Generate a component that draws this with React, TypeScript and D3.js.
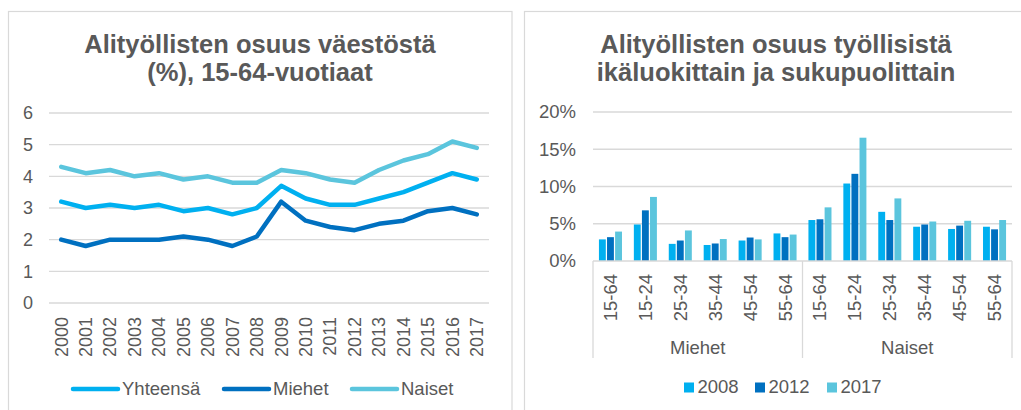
import React from "react";
import * as d3 from "d3";

const years = ["2000","2001","2002","2003","2004","2005","2006","2007","2008","2009","2010","2011","2012","2013","2014","2015","2016","2017"];
const yhteensa = [3.2,3.0,3.1,3.0,3.1,2.9,3.0,2.8,3.0,3.7,3.3,3.1,3.1,3.3,3.5,3.8,4.1,3.9];
const miehet = [2.0,1.8,2.0,2.0,2.0,2.1,2.0,1.8,2.1,3.2,2.6,2.4,2.3,2.5,2.6,2.9,3.0,2.8];
const naiset = [4.3,4.1,4.2,4.0,4.1,3.9,4.0,3.8,3.8,4.2,4.1,3.9,3.8,4.2,4.5,4.7,5.1,4.9];
const leftTicks = [0,1,2,3,4,5,6];

const ageGroups = ["15-64","15-24","25-34","35-44","45-54","55-64"];
const genders = ["Miehet","Naiset"];
const barYears = ["2008","2012","2017"];
const v2008 = [2.9,4.9,2.3,2.15,2.75,3.7, 5.5,10.4,6.6,4.6,4.3,4.6];
const v2012 = [3.2,6.8,2.75,2.35,3.15,3.2, 5.6,11.7,5.5,4.9,4.75,4.25];
const v2017 = [3.95,8.6,4.1,2.95,2.9,3.55, 7.2,16.55,8.4,5.3,5.4,5.5];
const rightTicks = [0,5,10,15,20];

const FONT = "'Liberation Sans', Arial, Helvetica, sans-serif";
const TXT = "#595959";
const GRID = "#D9D9D9";
const C1 = "#00B0F0";
const C2 = "#0070C0";
const C3 = "#5BC5DD";

export default function App() {
  // Left chart
  const lx = d3.scaleBand<string>().domain(years).range([49, 489]);
  const ly = d3.scaleLinear().domain([0, 6]).range([303, 113]);
  const line = d3.line<number>()
    .x((_, i) => (lx(years[i]) as number) + lx.bandwidth() / 2)
    .y((d) => ly(d));
  const series = [
    { name: "Naiset", data: naiset, color: C3 },
    { name: "Yhteensä", data: yhteensa, color: C1 },
    { name: "Miehet", data: miehet, color: C2 },
  ];
  const leftLegend = [
    { name: "Yhteensä", color: C1, x: 73 },
    { name: "Miehet", color: C2, x: 224 },
    { name: "Naiset", color: C3, x: 352 },
  ];

  // Right chart
  const cats = genders.flatMap((g) => ageGroups.map((a) => g + "|" + a));
  const rx = d3.scaleBand<string>().domain(cats).range([593, 1012]).paddingInner(0.34).paddingOuter(0.17);
  const rxStep = d3.scaleBand<string>().domain(cats).range([593, 1012]);
  const rInner = d3.scaleBand<string>().domain(barYears).range([0, rx.bandwidth()]).paddingInner(0.15);
  const ry = d3.scaleLinear().domain([0, 20]).range([261, 112]);
  const barSeries = [
    { year: "2008", data: v2008, color: C1 },
    { year: "2012", data: v2012, color: C2 },
    { year: "2017", data: v2017, color: C3 },
  ];
  const rightLegend = [
    { name: "2008", color: C1, x: 684 },
    { name: "2012", color: C2, x: 755 },
    { name: "2017", color: C3, x: 827 },
  ];
  const sepX = [593, (rxStep(cats[6]) as number), 1012];

  return (
    <svg width={1021} height={410} style={{ position: "absolute", left: 0, top: 0, background: "#fff" }} fontFamily={FONT}>
      <rect x={0} y={0} width={1021} height={410} fill="#fff" />
      {/* panels */}
      <rect x={8.5} y={11.5} width={503.5} height={420} fill="none" stroke={GRID} strokeWidth={1.2} />
      <rect x={524.5} y={11.5} width={520} height={420} fill="none" stroke={GRID} strokeWidth={1.2} />

      {/* Left title */}
      <text x={260} y={52.5} textAnchor="middle" fontWeight="bold" fontSize={25.5} fill={TXT}>Alityöllisten osuus väestöstä</text>
      <text x={260} y={81} textAnchor="middle" fontWeight="bold" fontSize={25.5} fill={TXT}>(%), 15-64-vuotiaat</text>

      {/* Left grid */}
      {leftTicks.map((t) => (
        <g key={"lt" + t}>
          <line x1={49} x2={489} y1={ly(t)} y2={ly(t)} stroke={GRID} strokeWidth={1.3} />
          <text x={33} y={ly(t)} dy="0.35em" textAnchor="end" fontSize={18} fill={TXT}>{t}</text>
        </g>
      ))}
      {years.map((yr) => (
        <text key={yr} transform={`translate(${(lx(yr) as number) + lx.bandwidth() / 2},317) rotate(-90)`} textAnchor="end" dy="0.35em" fontSize={18} fill={TXT}>{yr}</text>
      ))}
      {series.map((s) => (
        <path key={s.name} d={line(s.data) as string} fill="none" stroke={s.color} strokeWidth={4.5} strokeLinejoin="round" strokeLinecap="round" />
      ))}
      {leftLegend.map((l) => (
        <g key={l.name}>
          <line x1={l.x} x2={l.x + 45} y1={389} y2={389} stroke={l.color} strokeWidth={4.5} strokeLinecap="round" />
          <text x={l.x + 49} y={395} fontSize={18.5} fill={TXT}>{l.name}</text>
        </g>
      ))}

      {/* Right title */}
      <text x={776} y={52.5} textAnchor="middle" fontWeight="bold" fontSize={25.5} fill={TXT}>Alityöllisten osuus työllisistä</text>
      <text x={776} y={81} textAnchor="middle" fontWeight="bold" fontSize={25.5} fill={TXT}>ikäluokittain ja sukupuolittain</text>

      {rightTicks.map((t) => (
        <g key={"rt" + t}>
          {t > 0 && <line x1={593} x2={1012} y1={ry(t)} y2={ry(t)} stroke={GRID} strokeWidth={1.3} />}
          <text x={576} y={ry(t)} dy="0.35em" textAnchor="end" fontSize={18.5} fill={TXT}>{t + "%"}</text>
        </g>
      ))}
      {barSeries.map((s) => (
        <g key={s.year}>
          {s.data.map((v, i) => (
            <rect key={i} x={(rx(cats[i]) as number) + (rInner(s.year) as number)} y={ry(v)} width={rInner.bandwidth()} height={ry(0) - ry(v)} fill={s.color} />
          ))}
        </g>
      ))}
      <line x1={593} x2={1012} y1={ry(0)} y2={ry(0)} stroke={GRID} strokeWidth={1.3} />
      {sepX.map((x, i) => (
        <line key={"sep" + i} x1={x} x2={x} y1={ry(0)} y2={358} stroke={GRID} strokeWidth={1.3} />
      ))}
      {cats.map((c) => (
        <text key={c} transform={`translate(${(rxStep(c) as number) + rxStep.bandwidth() / 2},274) rotate(-90)`} textAnchor="end" dy="0.35em" fontSize={18.5} fill={TXT}>{c.split("|")[1]}</text>
      ))}
      {genders.map((g, gi) => (
        <text key={g} x={(sepX[gi] + sepX[gi + 1]) / 2} y={354} textAnchor="middle" fontSize={18.5} fill={TXT}>{g}</text>
      ))}
      {rightLegend.map((l) => (
        <g key={l.name}>
          <rect x={l.x} y={382.5} width={10} height={10} fill={l.color} />
          <text x={l.x + 13.5} y={392.5} fontSize={18.5} fill={TXT}>{l.name}</text>
        </g>
      ))}
    </svg>
  );
}
